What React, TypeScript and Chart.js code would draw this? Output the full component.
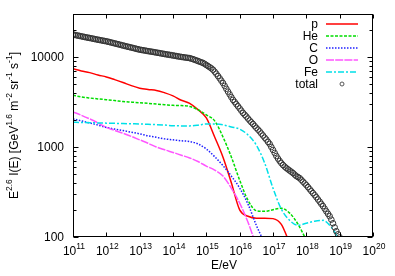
import React, { useEffect, useRef } from "react";
import { Chart, registerables } from "chart.js";

Chart.register(...registerables);

const FONT = '"Liberation Sans", Arial, Helvetica, sans-serif';

// log10(E/eV) grid for the component curves
const compLogE = [11, 11.25, 11.5, 11.75, 12, 12.25, 12.5, 12.75, 13, 13.25, 13.5, 13.75, 14, 14.25, 14.5, 14.75, 15, 15.25, 15.5, 15.75, 16, 16.25, 16.5, 16.75, 17, 17.25, 17.5, 17.75, 18, 18.25, 18.5, 18.75, 19];

const protonFlux = [7400, 7000, 6700, 6300, 6000, 5600, 5200, 4800, 4500, 4350, 4250, 4000, 3700, 3300, 3050, 2600, 2100, 1290, 770, 400, 200, 170, 162, 162, 160, 138, 85];
const heliumFlux = [3750, 3600, 3500, 3420, 3350, 3280, 3200, 3150, 3100, 3050, 3000, 2950, 2900, 2880, 2820, 2590, 2270, 1950, 1290, 774, 428, 256, 196, 193, 201, 209, 184, 139, 92];
const carbonFlux = [2050, 1950, 1850, 1750, 1650, 1580, 1520, 1460, 1400, 1330, 1280, 1230, 1200, 1170, 1150, 1080, 950, 780, 620, 475, 350, 232, 135, 85];
const oxygenFlux = [2450, 2250, 2050, 1850, 1650, 1530, 1420, 1310, 1200, 1100, 1000, 930, 870, 810, 755, 690, 614, 554, 475, 349, 238, 146, 80];
const ironFlux = [1880, 1870, 1860, 1850, 1840, 1830, 1820, 1810, 1800, 1785, 1770, 1750, 1725, 1715, 1715, 1745, 1800, 1800, 1760, 1670, 1580, 1360, 1050, 663, 349, 204, 153, 135, 142, 150, 153, 128, 92];

// log10(E/eV) grid for the total (points)
const totalLogE = [
  11.0, 11.05, 11.1, 11.15, 11.2, 11.25, 11.3, 11.35, 11.4, 11.45,
  11.5, 11.55, 11.6, 11.65, 11.7, 11.75, 11.8, 11.85, 11.9, 11.95,
  12.0, 12.05, 12.1, 12.15, 12.2, 12.25, 12.3, 12.35, 12.4, 12.45,
  12.5, 12.55, 12.6, 12.65, 12.7, 12.75, 12.8, 12.85, 12.9, 12.95,
  13.0, 13.05, 13.1, 13.15, 13.2, 13.25, 13.3, 13.35, 13.4, 13.45,
  13.5, 13.55, 13.6, 13.65, 13.7, 13.75, 13.8, 13.85, 13.9, 13.95,
  14.0, 14.05, 14.1, 14.15, 14.2, 14.25, 14.3, 14.35, 14.4, 14.45,
  14.5, 14.55, 14.6, 14.65, 14.7, 14.75, 14.8, 14.85, 14.9, 14.95,
  15.0, 15.05, 15.1, 15.15, 15.2, 15.25, 15.3, 15.35, 15.4, 15.45,
  15.5, 15.55, 15.6, 15.65, 15.7, 15.75, 15.8, 15.85, 15.9, 15.95,
  16.0, 16.05, 16.1, 16.15, 16.2, 16.25, 16.3, 16.35, 16.4, 16.45,
  16.5, 16.55, 16.6, 16.65, 16.7, 16.75, 16.8, 16.85, 16.9, 16.95,
  17.0, 17.05, 17.1, 17.15, 17.2, 17.25, 17.3, 17.35, 17.4, 17.45,
  17.5, 17.55, 17.6, 17.65, 17.7, 17.75, 17.8, 17.85, 17.9, 17.95,
  18.0, 18.05, 18.1, 18.15, 18.2, 18.25, 18.3, 18.35, 18.4, 18.45,
  18.5, 18.55, 18.6, 18.65, 18.7, 18.75, 18.8, 18.85, 18.9, 18.95,
  19.0,
];
const totalFlux = [
  17740, 17580, 17420, 17260, 17110, 16950, 16800, 16650, 16500, 16370,
  16240, 16100, 15960, 15810, 15670, 15540, 15420, 15290, 15160, 15040,
  14930, 14770, 14620, 14460, 14300, 14150, 14000, 13850, 13710, 13550,
  13400, 13260, 13120, 12980, 12850, 12720, 12590, 12450, 12310, 12180,
  12050, 11960, 11880, 11790, 11700, 11610, 11530, 11450, 11370, 11280,
  11200, 11110, 11030, 10940, 10860, 10770, 10690, 10620, 10550, 10470,
  10390, 10310, 10230, 10150, 10070, 10010, 9950, 9880, 9820, 9760,
  9700, 9580, 9450, 9300, 9160, 9010, 8860, 8720, 8580, 8370,
  8140, 7920, 7700, 7470, 7220, 6860, 6510, 6140, 5790, 5450,
  5130, 4770, 4430, 4120, 3840, 3580, 3340, 3160, 2990, 2830,
  2680, 2530, 2390, 2280, 2180, 2070, 1970, 1880, 1800, 1710,
  1630, 1560, 1490, 1410, 1340, 1270, 1210, 1140, 1080, 1000,
  927, 858, 795, 743, 698, 662, 630, 605, 583, 564,
  547, 530, 513, 493, 475, 463, 451, 431, 412, 394,
  377, 358, 340, 323, 307, 292, 277, 261, 247, 233,
  220, 206, 193, 181, 170, 156, 142, 128, 116, 107,
  99,
];

const xTickExponents = [11, 12, 13, 14, 15, 16, 17, 18, 19, 20];
const yTickLabels = [100, 1000, 10000];
const legendLabels = ["p", "He", "C", "O", "Fe", "total"];

const seriesStyle: Record<string, { color: string; dash: number[] }> = {
  p: { color: "#ff0000", dash: [] },
  He: { color: "#00dd00", dash: [3, 1.5] },
  C: { color: "#2020ff", dash: [1.5, 1.5] },
  O: { color: "#ff55ff", dash: [8, 1.2] },
  Fe: { color: "#00e0e8", dash: [6, 2, 2, 2] },
};

const toPts = (logE: number[], vals: number[]) => vals.map((v, i) => ({ x: Math.pow(10, logE[i]), y: v }));

type Piece = [string, number];

function richWidth(ctx: CanvasRenderingContext2D, pieces: Piece[], base: number, sup: number) {
  let w = 0;
  for (const [t, s] of pieces) {
    ctx.font = `${s ? sup : base}px ${FONT}`;
    w += ctx.measureText(t).width;
  }
  return w;
}

function drawRich(ctx: CanvasRenderingContext2D, pieces: Piece[], x: number, y: number, base: number, sup: number, raise: number) {
  let cx = x;
  ctx.textAlign = "left";
  ctx.textBaseline = "alphabetic";
  for (const [t, s] of pieces) {
    ctx.font = `${s ? sup : base}px ${FONT}`;
    ctx.fillText(t, cx, s ? y - raise : y);
    cx += ctx.measureText(t).width;
  }
}

const decorPlugin = {
  id: "gnuplotDecor",
  afterDraw(chart: any) {
    const ctx: CanvasRenderingContext2D = chart.ctx;
    const { left, right, top, bottom } = chart.chartArea;
    const xs = chart.scales.x;
    const ys = chart.scales.y;
    ctx.save();
    ctx.setLineDash([]);
    ctx.strokeStyle = "#000";
    ctx.lineWidth = 1;
    const L = Math.round(left) + 0.5;
    const R = Math.round(right) - 0.5;
    const T = Math.round(top) + 0.5;
    const B = Math.round(bottom) - 0.5;
    ctx.strokeRect(L, T, R - L, B - T);

    // y ticks
    ctx.beginPath();
    for (let d = 2; d <= 4; d++) {
      for (let m = 1; m <= 9; m++) {
        const v = m * Math.pow(10, d);
        if (v > ys.max) continue;
        const py = Math.round(ys.getPixelForValue(v)) + 0.5;
        const len = m === 1 ? 5 : 3;
        ctx.moveTo(L, py);
        ctx.lineTo(L + len, py);
        ctx.moveTo(R, py);
        ctx.lineTo(R - len, py);
      }
    }
    // x ticks
    for (const e of xTickExponents) {
      const px = Math.round(xs.getPixelForValue(Math.pow(10, e))) + 0.5;
      ctx.moveTo(px, B);
      ctx.lineTo(px, B - 4);
      ctx.moveTo(px, T);
      ctx.lineTo(px, T + 4);
    }
    ctx.stroke();

    ctx.fillStyle = "#000";
    // y tick labels
    ctx.font = `12px ${FONT}`;
    ctx.textAlign = "right";
    ctx.textBaseline = "middle";
    for (const v of yTickLabels) {
      const py = ys.getPixelForValue(v);
      ctx.fillText(String(v), left - 9, py + 0.5);
    }
    // x tick labels 10^n
    for (const e of xTickExponents) {
      const px = xs.getPixelForValue(Math.pow(10, e));
      const pieces: Piece[] = [["10", 0], [String(e), 1]];
      const w = richWidth(ctx, pieces, 12, 8.5);
      drawRich(ctx, pieces, px - w / 2 + 1, 255, 12, 8.5, 6);
    }
    // x title
    ctx.font = `12px ${FONT}`;
    ctx.textAlign = "center";
    ctx.textBaseline = "alphabetic";
    ctx.fillText("E/eV", (left + right) / 2 + 1, 269);

    // y title (rotated)
    const yPieces: Piece[] = [["E", 0], ["2.6", 1], [" I(E) [GeV", 0], ["1.6", 1], [" m", 0], ["-2", 1], [" sr", 0], ["-1", 1], [" s", 0], ["-1", 1], ["]", 0]];
    ctx.save();
    ctx.translate(18, (top + bottom) / 2);
    ctx.rotate(-Math.PI / 2);
    const yw = richWidth(ctx, yPieces, 12, 8.5);
    drawRich(ctx, yPieces, -yw / 2, 0, 12, 8.5, 6);
    ctx.restore();

    // legend
    const rowY0 = 24;
    const rowH = 12;
    legendLabels.forEach((lab, i) => {
      const ry = rowY0 + i * rowH;
      ctx.font = `12px ${FONT}`;
      ctx.textAlign = "right";
      ctx.textBaseline = "middle";
      ctx.fillStyle = "#000";
      ctx.fillText(lab, 318, ry + 0.5);
      if (lab === "total") {
        ctx.setLineDash([]);
        ctx.strokeStyle = "#555";
        ctx.lineWidth = 1;
        ctx.beginPath();
        ctx.arc(342, ry, 2, 0, Math.PI * 2);
        ctx.stroke();
      } else {
        const st = seriesStyle[lab];
        ctx.setLineDash(st.dash);
        ctx.strokeStyle = st.color;
        ctx.lineWidth = 1.5;
        ctx.beginPath();
        ctx.moveTo(326, ry);
        ctx.lineTo(358, ry);
        ctx.stroke();
      }
    });
    ctx.restore();
  },
};

export default function App() {
  const ref = useRef<HTMLCanvasElement | null>(null);
  useEffect(() => {
    if (!ref.current) return;
    const lineDs = (label: string, vals: number[]) => ({
      label,
      data: toPts(compLogE, vals),
      borderColor: seriesStyle[label].color,
      borderDash: seriesStyle[label].dash,
      borderWidth: 1.5,
      pointRadius: 0,
      fill: false,
      cubicInterpolationMode: "monotone" as const,
    });
    const chart = new Chart(ref.current, {
      type: "line",
      data: {
        datasets: [
          {
            label: "total",
            data: toPts(totalLogE, totalFlux),
            showLine: false,
            pointRadius: 2.8,
            pointStyle: "circle",
            pointBorderColor: "#333333",
            pointBackgroundColor: "rgba(0,0,0,0)",
            pointBorderWidth: 1,
            borderColor: "#333333",
          } as any,
          lineDs("Fe", ironFlux),
          lineDs("O", oxygenFlux),
          lineDs("C", carbonFlux),
          lineDs("He", heliumFlux),
          lineDs("p", protonFlux),
        ],
      },
      options: {
        animation: false,
        responsive: false,
        devicePixelRatio: 1,
        layout: { padding: { left: 73, right: 22, top: 14, bottom: 39 } },
        scales: {
          x: { type: "logarithmic", min: 1e11, max: 1e20, display: false },
          y: { type: "logarithmic", min: 100, max: 30000, display: false },
        },
        plugins: { legend: { display: false }, tooltip: { enabled: false } },
      },
      plugins: [decorPlugin],
    });
    return () => chart.destroy();
  }, []);
  return (
    <div style={{ position: "absolute", left: 0, top: 0, width: 395, height: 276, background: "#fff" }}>
      <canvas ref={ref} width={395} height={276} style={{ width: 395, height: 276, display: "block" }} />
    </div>
  );
}
